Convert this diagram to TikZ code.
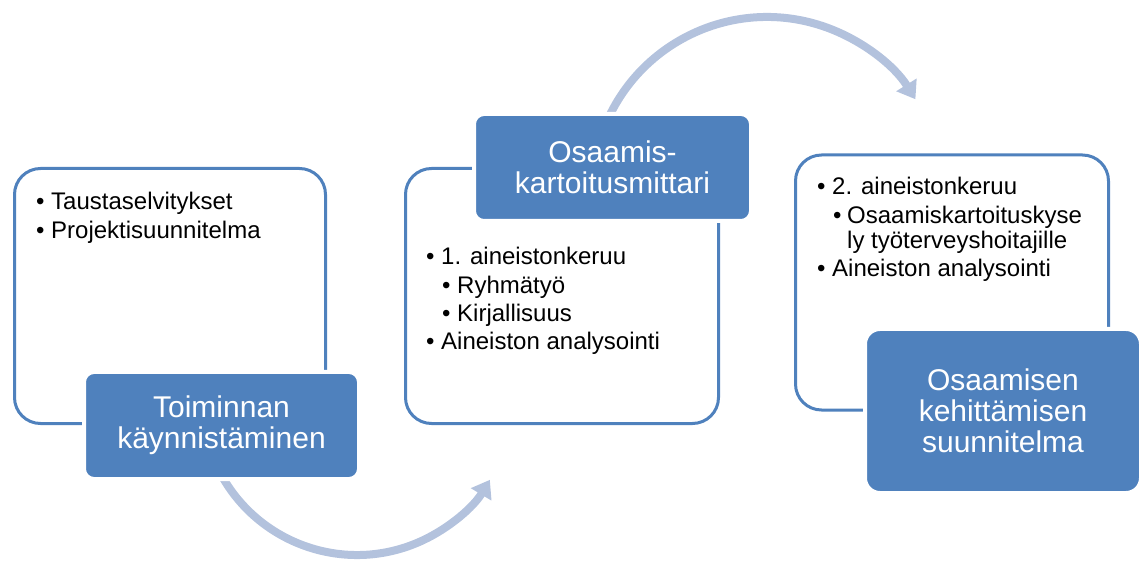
\documentclass[tikz,border=0pt]{standalone}
\usepackage{fontspec}
\setmainfont{Liberation Sans}
\usetikzlibrary{arrows.meta}
\definecolor{accent}{HTML}{4F81BD}
\definecolor{flow}{HTML}{B3C2DD}

\begin{document}
\begin{tikzpicture}[x=1pt,y=-1pt,
  panel/.style={draw=accent, line width=3pt, rounded corners=26pt, fill=white, inner sep=0pt},
  title/.style={fill=accent, draw=white, line width=4pt, text=white, align=center,
    font=\fontsize{30}{31}\selectfont, inner sep=0pt},
  item/.style={anchor=base west, inner sep=0pt, font=\fontsize{24}{28}\selectfont},
  flowarrow/.style={draw=flow, line width=8pt, -{Triangle[length=17pt,width=23pt]}}
]
\useasboundingbox (0,0) rectangle (1141,561);

% curved arrows between the stages (drawn first, they pass under the title boxes)
\coordinate (c1) at (357,400);
\coordinate (c2) at (767,192);
\draw[flowarrow] (c1) ++(155:155) arc[start angle=155, end angle=31, radius=155];
\draw[flowarrow] (c2) ++(200:175) arc[start angle=200, end angle=328, radius=175];

% content panels
\node[panel, minimum width=311pt, minimum height=255pt] (p1) at (170,296) {};
\node[panel, minimum width=313pt, minimum height=255pt] (p2) at (562,296) {};
\node[panel, minimum width=313pt, minimum height=255pt] (p3) at (952,282.5) {};

% stage titles
\node[title, rounded corners=10pt, minimum width=275pt, minimum height=107pt] (b1) at (221.5,425.5)
  {Toiminnan\\käynnistäminen};
\node[title, rounded corners=10pt, minimum width=277pt, minimum height=107pt] (b2) at (612.5,167.5)
  {Osaamis-\\kartoitusmittari};
\node[title, rounded corners=15pt, minimum width=276pt, minimum height=164pt] (b3) at (1003,411)
  {Osaamisen\\kehittämisen\\suunnitelma};

% panel 1 items
\node[item] (u11) at (36,210) {•};
\node[item] (t11) at (51,210) {Taustaselvitykset};
\node[item] (u12) at (36,239) {•};
\node[item] (t12) at (51,239) {Projektisuunnitelma};

% panel 2 items
\node[item] (u21) at (426,265) {•};
\node[item] (t21) at (441,265) {1. aineistonkeruu};
\node[item] (u22) at (442,293.5) {•};
\node[item] (t22) at (457,293.5) {Ryhmätyö};
\node[item] (u23) at (442,322) {•};
\node[item] (t23) at (457,322) {Kirjallisuus};
\node[item] (u24) at (426,350) {•};
\node[item] (t24) at (441,350) {Aineiston analysointi};

% panel 3 items
\node[item] (u31) at (817,195) {•};
\node[item] (t31) at (832,195) {2. aineistonkeruu};
\node[item] (u32) at (833,223.5) {•};
\node[item] (t32) at (847,223.5) {Osaamiskartoituskyse};
\node[item] (t33) at (847,248.5) {ly työterveyshoitajille};
\node[item] (u34) at (817,277) {•};
\node[item] (t34) at (832,277) {Aineiston analysointi};
\end{tikzpicture}
\end{document}
